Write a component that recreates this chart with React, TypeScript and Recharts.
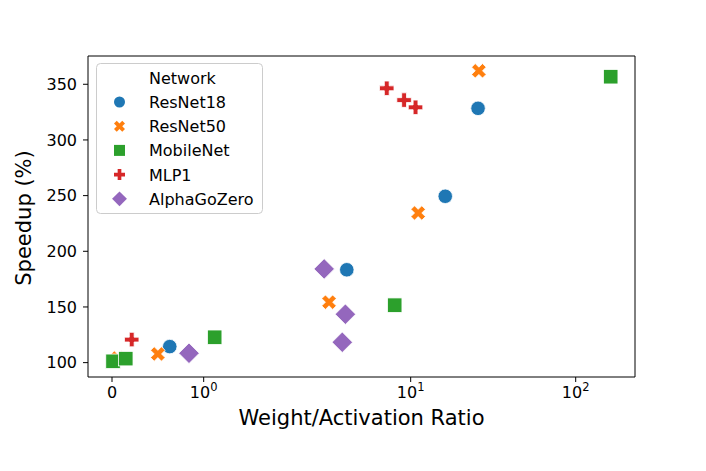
import React from 'react';
import { ScatterChart, Scatter, XAxis, YAxis, ReferenceArea, Label } from 'recharts';

// values (ratio on a symlog axis, speedup in %)
const resnet18Ratio = [0.63, 4.1, 16.2, 25.6];
const resnet18Speedup = [114.4, 183.4, 249.4, 328.4];

const resnet50Ratio = [0.065, 0.5, 3.2, 11.1, 25.9];
const resnet50Speedup = [104.1, 107.8, 154.3, 234.4, 362.1];

const mobilenetRatio = [0.011, 0.15, 1.12, 8.0, 163];
const mobilenetSpeedup = [101.2, 103.6, 122.8, 151.6, 356.8];

const mlp1Ratio = [0.215, 7.16, 9.12, 10.7];
const mlp1Speedup = [120.7, 346.4, 335.8, 329.3];

const alphaGoZeroRatio = [0.84, 2.99, 4.02, 3.85];
const alphaGoZeroSpeedup = [108.4, 184.2, 143.5, 118.3];

const xTickValues = [0, 1, 10, 100];
const yTickValues = [100, 150, 200, 250, 300, 350];

const FONT = '"DejaVu Sans", sans-serif';

// matplotlib symlog, linthresh=2, linscale=1, base 10
const LINTHRESH = 2;
const LINSCALE_ADJ = 1 / (1 - 1 / 10);
const symlog = (v: number) => {
  const a = Math.abs(v);
  if (a <= LINTHRESH) return v * LINSCALE_ADJ;
  return Math.sign(v) * LINTHRESH * (LINSCALE_ADJ + Math.log10(a / LINTHRESH));
};

const X_DOMAIN: [number, number] = [-0.291, 6.339];
const Y_DOMAIN: [number, number] = [87.1, 375.4];

type Kind = 'circle' | 'x' | 'square' | 'plus' | 'diamond';

const series = [
  { name: 'ResNet18', color: '#1f77b4', kind: 'circle' as Kind, ratio: resnet18Ratio, speedup: resnet18Speedup },
  { name: 'ResNet50', color: '#ff7f0e', kind: 'x' as Kind, ratio: resnet50Ratio, speedup: resnet50Speedup },
  { name: 'MobileNet', color: '#2ca02c', kind: 'square' as Kind, ratio: mobilenetRatio, speedup: mobilenetSpeedup },
  { name: 'MLP1', color: '#d62728', kind: 'plus' as Kind, ratio: mlp1Ratio, speedup: mlp1Speedup },
  { name: 'AlphaGoZero', color: '#9467bd', kind: 'diamond' as Kind, ratio: alphaGoZeroRatio, speedup: alphaGoZeroSpeedup },
];

const X_PATH = [[-1, -2], [0, -1], [1, -2], [2, -1], [1, 0], [2, 1], [1, 2], [0, 1], [-1, 2], [-2, 1], [-1, 0], [-2, -1]].map(([a, b]) => [a / 4, b / 4]);
const PLUS_PATH = [[-1, -3], [1, -3], [1, -1], [3, -1], [3, 1], [1, 1], [1, 3], [-1, 3], [-1, 1], [-3, 1], [-3, -1], [-1, -1]].map(([a, b]) => [a / 6, b / 6]);

const toPoints = (path: number[][], cx: number, cy: number, s: number) =>
  path.map(([a, b]) => `${cx + a * s},${cy + b * s}`).join(' ');

const Marker = ({ kind, cx, cy, size, color, edge = true }: { kind: Kind; cx: number; cy: number; size: number; color: string; edge?: boolean }) => {
  const common = { fill: color, stroke: edge ? '#fff' : 'none', strokeWidth: 0.8 };
  if (cx == null || cy == null) return null;
  switch (kind) {
    case 'circle':
      return <circle cx={cx} cy={cy} r={size / 2} {...common} />;
    case 'square':
      return <rect x={cx - size / 2} y={cy - size / 2} width={size} height={size} {...common} />;
    case 'diamond': {
      const h = (size * Math.SQRT2) / 2;
      return <polygon points={`${cx},${cy - h} ${cx + h},${cy} ${cx},${cy + h} ${cx - h},${cy}`} {...common} />;
    }
    case 'x':
      return <polygon points={toPoints(X_PATH, cx, cy, size)} {...common} />;
    case 'plus':
      return <polygon points={toPoints(PLUS_PATH, cx, cy, size)} {...common} />;
  }
  return null;
};

const XTick = (props: any) => {
  const { x, y, payload } = props;
  const idx = xTickValues.findIndex((v) => Math.abs(symlog(v) - payload.value) < 1e-6);
  const v = xTickValues[idx];
  return (
    <text x={x} y={y + 14} textAnchor="middle" fontFamily={FONT} fontSize={16} fill="#000">
      {v === 0 ? (
        '0'
      ) : (
        <>
          <tspan>10</tspan>
          <tspan dy={-7} fontSize={11.5}>{Math.round(Math.log10(v))}</tspan>
        </>
      )}
    </text>
  );
};

const Legend = () => (
  <svg width={706} height={471} style={{ position: 'absolute', left: 0, top: 0, pointerEvents: 'none' }}>
    <rect x={96.5} y={63.5} width={166} height={150} rx={4} fill="rgba(255,255,255,0.8)" stroke="#cccccc" />
    <text x={149} y={84} fontFamily={FONT} fontSize={16} fill="#000">Network</text>
    {series.map((s, i) => (
      <g key={s.name}>
        <Marker kind={s.kind} cx={119.5} cy={102 + i * 24.2} size={s.kind === 'diamond' ? 10.5 : 11} color={s.color} edge={false} />
        <text x={149} y={108 + i * 24.2} fontFamily={FONT} fontSize={16} fill="#000">{s.name}</text>
      </g>
    ))}
  </svg>
);

export default function App() {
  return (
    <div style={{ position: 'absolute', left: 0, top: 0, width: 706, height: 471, background: '#fff' }}>
      <ScatterChart width={706} height={471} margin={{ top: 56, right: 71, bottom: 0, left: 0 }}>
        <XAxis
          type="number"
          dataKey="t"
          domain={X_DOMAIN}
          allowDataOverflow
          ticks={xTickValues.map(symlog)}
          height={94}
          axisLine={false}
          tickLine={{ stroke: '#000' }}
          tickSize={5}
          tick={<XTick />}
        >
          <Label
            content={() => (
              <text x={361.5} y={425} textAnchor="middle" fontFamily={FONT} fontSize={21} fill="#000">
                Weight/Activation Ratio
              </text>
            )}
          />
        </XAxis>
        <YAxis
          type="number"
          dataKey="speedup"
          domain={Y_DOMAIN}
          allowDataOverflow
          ticks={yTickValues}
          width={88}
          axisLine={false}
          tickLine={{ stroke: '#000' }}
          tickSize={5}
          tickMargin={6}
          tick={{ fill: '#000', fontSize: 16, fontFamily: FONT }}
        >
          <Label
            content={() => (
              <text transform="translate(31,218) rotate(-90)" textAnchor="middle" fontFamily={FONT} fontSize={21} fill="#000">
                Speedup (%)
              </text>
            )}
          />
        </YAxis>
        {series.map((s) => (
          <Scatter
            key={s.name}
            name={s.name}
            data={s.ratio.map((r, i) => ({ t: symlog(r), speedup: s.speedup[i] }))}
            isAnimationActive={false}
            shape={(p: any) => <Marker kind={s.kind} cx={p.cx} cy={p.cy} size={14.5} color={s.color} />}
          />
        ))}
        <ReferenceArea x1={X_DOMAIN[0]} x2={X_DOMAIN[1]} y1={Y_DOMAIN[0]} y2={Y_DOMAIN[1]} fill="none" stroke="#000" strokeWidth={1} fillOpacity={0} />
      </ScatterChart>
      <Legend />
    </div>
  );
}
